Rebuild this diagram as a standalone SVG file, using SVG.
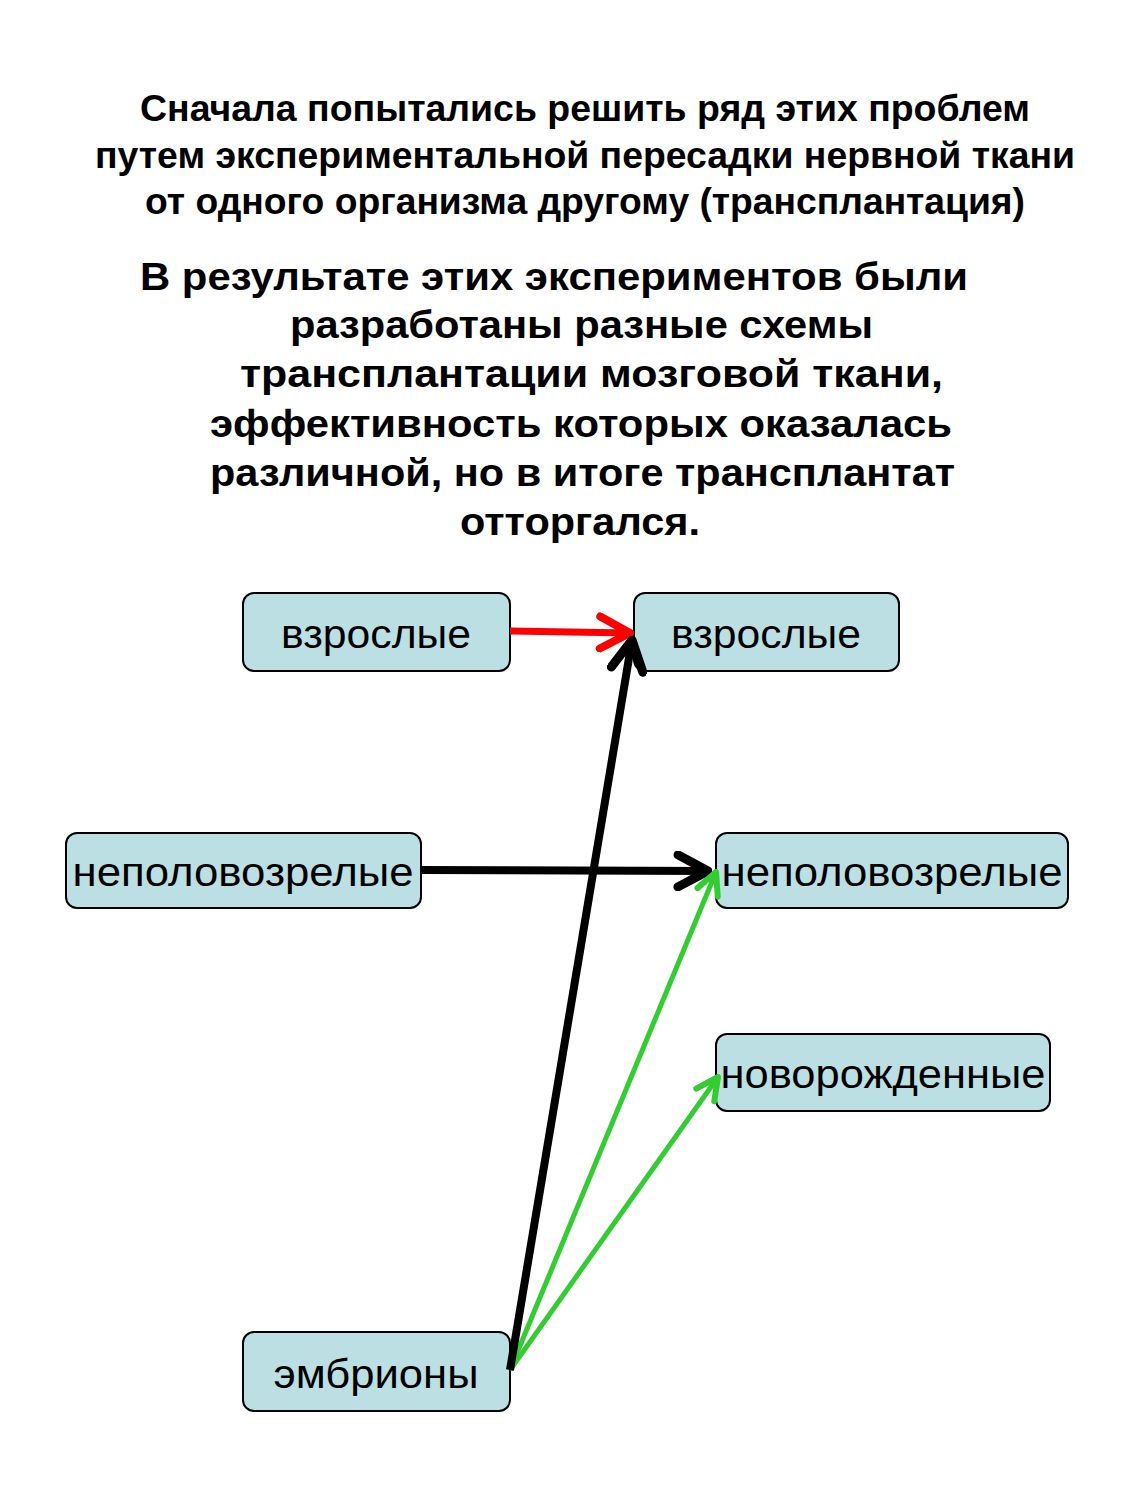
<svg xmlns="http://www.w3.org/2000/svg" width="1125" height="1500" viewBox="0 0 1125 1500">
<style>
.h1{font-family:"Liberation Sans",Arial,sans-serif;font-weight:bold;font-size:37px;fill:#000}
.h2{font-family:"Liberation Sans",Arial,sans-serif;font-weight:bold;font-size:38px;fill:#000}
.box{fill:#BCDFE3;stroke:#000;stroke-width:2}
.lbl{font-family:"Liberation Sans",Arial,sans-serif;font-size:40px;fill:#000;text-anchor:middle}
.red{stroke:#FF0000;stroke-width:7;fill:none}
.blk{stroke:#000;stroke-width:8;fill:none}
.grn{stroke:#33CC33;stroke-width:5;fill:none}
</style>
<defs>
<marker id="mRed" viewBox="0 0 40 40" refX="36" refY="20" markerWidth="40" markerHeight="40" markerUnits="userSpaceOnUse" orient="auto">
<path d="M6,4 L36,20 L6,36" fill="none" stroke="#FF0000" stroke-width="8" stroke-linecap="round" stroke-linejoin="round"/>
</marker>
<marker id="mBlk" viewBox="0 0 40 40" refX="36" refY="20" markerWidth="40" markerHeight="40" markerUnits="userSpaceOnUse" orient="auto">
<path d="M6,4 L36,20 L6,36" fill="none" stroke="#000" stroke-width="9" stroke-linecap="round" stroke-linejoin="round"/>
</marker>
<marker id="mGrn" viewBox="0 0 30 30" refX="27" refY="15" markerWidth="30" markerHeight="30" markerUnits="userSpaceOnUse" orient="auto">
<path d="M5,4 L27,15 L5,26" fill="none" stroke="#33CC33" stroke-width="6" stroke-linecap="round" stroke-linejoin="round"/>
</marker>
</defs>
<rect width="1125" height="1500" fill="#fff"/>
<g id="header">
<text class="h1" x="140" y="121" textLength="890" lengthAdjust="spacingAndGlyphs">Сначала попытались решить ряд этих проблем</text>
<text class="h1" x="95" y="168" textLength="980" lengthAdjust="spacingAndGlyphs">путем экспериментальной пересадки нервной ткани</text>
<text class="h1" x="145" y="214" textLength="880" lengthAdjust="spacingAndGlyphs">от одного организма другому (трансплантация)</text>
</g>
<g id="subtitle">
<text class="h2" x="140" y="290" textLength="828" lengthAdjust="spacingAndGlyphs">В результате этих экспериментов были</text>
<text class="h2" x="290" y="338" textLength="583" lengthAdjust="spacingAndGlyphs">разработаны разные схемы</text>
<text class="h2" x="240" y="387" textLength="703" lengthAdjust="spacingAndGlyphs">трансплантации мозговой ткани,</text>
<text class="h2" x="210" y="437" textLength="742" lengthAdjust="spacingAndGlyphs">эффективность которых оказалась</text>
<text class="h2" x="210" y="486" textLength="745" lengthAdjust="spacingAndGlyphs">различной, но в итоге трансплантат</text>
<text class="h2" x="460" y="535" textLength="240" lengthAdjust="spacingAndGlyphs">отторгался.</text>
</g>
<g id="n1">
<rect class="box" x="243" y="593" width="267" height="78" rx="11"/>
<text class="lbl" x="376" y="648" textLength="190" lengthAdjust="spacingAndGlyphs">взрослые</text>
</g>
<g id="n2">
<rect class="box" x="634" y="593" width="265" height="78" rx="11"/>
<text class="lbl" x="766" y="648" textLength="190" lengthAdjust="spacingAndGlyphs">взрослые</text>
</g>
<g id="n3">
<rect class="box" x="66" y="833" width="355" height="75" rx="11"/>
<text class="lbl" x="243" y="886" textLength="341" lengthAdjust="spacingAndGlyphs">неполовозрелые</text>
</g>
<g id="n4">
<rect class="box" x="716" y="833" width="352" height="75" rx="11"/>
<text class="lbl" x="892" y="886" textLength="341" lengthAdjust="spacingAndGlyphs">неполовозрелые</text>
</g>
<g id="n5">
<rect class="box" x="716" y="1034" width="334" height="77" rx="11"/>
<text class="lbl" x="883" y="1088" textLength="325" lengthAdjust="spacingAndGlyphs">новорожденные</text>
</g>
<g id="n6">
<rect class="box" x="243" y="1332" width="267" height="79" rx="11"/>
<text class="lbl" x="376" y="1388" textLength="205" lengthAdjust="spacingAndGlyphs">эмбрионы</text>
</g>
<g id="connectors">
<line class="red" x1="510" y1="631" x2="630" y2="633" marker-end="url(#mRed)"/>
<line class="blk" x1="421" y1="870" x2="708" y2="871" marker-end="url(#mBlk)"/>
<line class="grn" x1="510" y1="1370" x2="716" y2="872" marker-end="url(#mGrn)"/>
<line class="grn" x1="510" y1="1370" x2="718" y2="1077" marker-end="url(#mGrn)"/>
<line class="blk" x1="510" y1="1370" x2="632" y2="640" marker-end="url(#mBlk)"/>
</g>
</svg>
